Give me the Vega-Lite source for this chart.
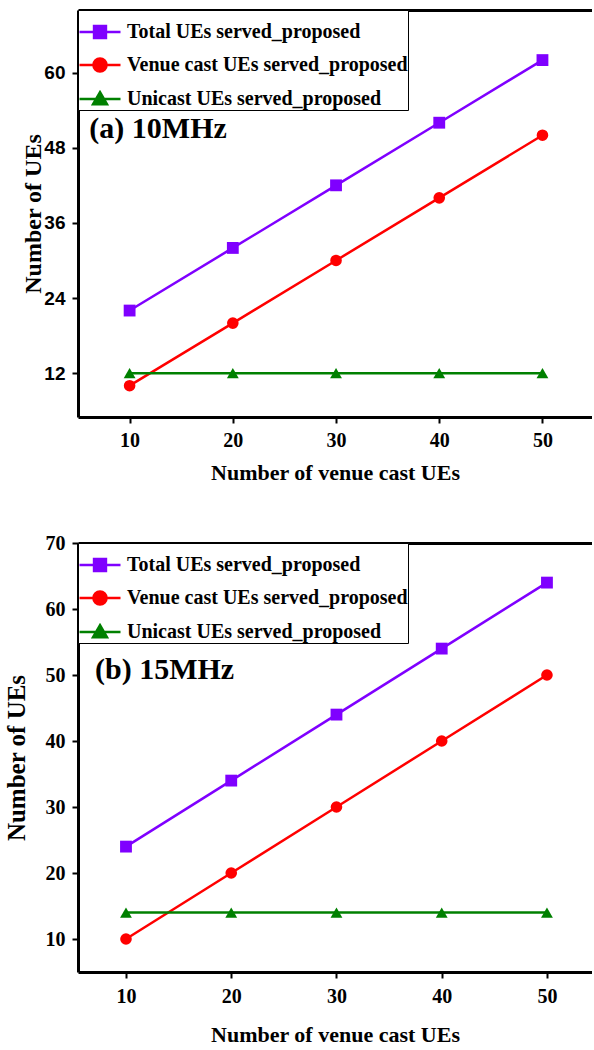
{
  "$schema": "https://vega.github.io/schema/vega-lite/v6.json",
  "background": "white",
  "padding": {"left": 4, "top": 9, "right": 0, "bottom": 2},
  "spacing": 126,
  "bounds": "flush",
  "datasets": {
    "a": [
      {"n": 10, "series": "Total UEs served_proposed", "ues": 22},
      {"n": 20, "series": "Total UEs served_proposed", "ues": 32},
      {"n": 30, "series": "Total UEs served_proposed", "ues": 42},
      {"n": 40, "series": "Total UEs served_proposed", "ues": 52},
      {"n": 50, "series": "Total UEs served_proposed", "ues": 62},
      {"n": 10, "series": "Venue cast UEs served_proposed", "ues": 10},
      {"n": 20, "series": "Venue cast UEs served_proposed", "ues": 20},
      {"n": 30, "series": "Venue cast UEs served_proposed", "ues": 30},
      {"n": 40, "series": "Venue cast UEs served_proposed", "ues": 40},
      {"n": 50, "series": "Venue cast UEs served_proposed", "ues": 50},
      {"n": 10, "series": "Unicast UEs served_proposed", "ues": 12},
      {"n": 20, "series": "Unicast UEs served_proposed", "ues": 12},
      {"n": 30, "series": "Unicast UEs served_proposed", "ues": 12},
      {"n": 40, "series": "Unicast UEs served_proposed", "ues": 12},
      {"n": 50, "series": "Unicast UEs served_proposed", "ues": 12}
    ],
    "b": [
      {"n": 10, "series": "Total UEs served_proposed", "ues": 24},
      {"n": 20, "series": "Total UEs served_proposed", "ues": 34},
      {"n": 30, "series": "Total UEs served_proposed", "ues": 44},
      {"n": 40, "series": "Total UEs served_proposed", "ues": 54},
      {"n": 50, "series": "Total UEs served_proposed", "ues": 64},
      {"n": 10, "series": "Venue cast UEs served_proposed", "ues": 10},
      {"n": 20, "series": "Venue cast UEs served_proposed", "ues": 20},
      {"n": 30, "series": "Venue cast UEs served_proposed", "ues": 30},
      {"n": 40, "series": "Venue cast UEs served_proposed", "ues": 40},
      {"n": 50, "series": "Venue cast UEs served_proposed", "ues": 50},
      {"n": 10, "series": "Unicast UEs served_proposed", "ues": 14},
      {"n": 20, "series": "Unicast UEs served_proposed", "ues": 14},
      {"n": 30, "series": "Unicast UEs served_proposed", "ues": 14},
      {"n": 40, "series": "Unicast UEs served_proposed", "ues": 14},
      {"n": 50, "series": "Unicast UEs served_proposed", "ues": 14}
    ]
  },
  "resolve": {"scale": {"color": "independent", "shape": "independent"}, "legend": {"color": "independent", "shape": "independent"}},
  "config": {
    "view": {"stroke": null},
    "axis": {
      "grid": false,
      "domainColor": "black",
      "domainWidth": 3,
      "tickColor": "black",
      "tickWidth": 2,
      "tickSize": 6,
      "labelColor": "black",
      "titleColor": "black",
      "labelFont": "Liberation Serif",
      "labelFontWeight": "bold",
      "titleFont": "Liberation Serif",
      "titleFontWeight": "bold"
    },
    "legend": {
      "orient": "top-left",
      "offset": 0,
      "padding": 0,
      "rowPadding": -7,
      "strokeColor": "black",
      "strokeWidth": 1,
      "fillColor": "white",
      "symbolSize": 1681,
      "symbolStrokeWidth": 2.5,
      "symbolOpacity": 1,
      "labelFont": "Liberation Serif",
      "labelFontWeight": "bold",
      "labelFontSize": 20,
      "labelColor": "black",
      "labelOffset": 5,
      "labelLimit": 0
    }
  },
  "vconcat": [
    {
      "width": 514,
      "height": 407,
      "data": {"name": "a"},
      "resolve": {"axis": {"x": "independent"}},
      "layer": [
        {
          "mark": {"type": "line", "strokeWidth": 2.5},
          "encoding": {
            "x": {"field": "n", "type": "quantitative",
              "scale": {"domain": [5, 54.8], "nice": false, "zero": false},
              "axis": {"orient": "bottom", "values": [10, 20, 30, 40, 50], "title": "Number of venue cast UEs", "titleFontSize": 22, "labelFontSize": 20, "labelPadding": 7, "titlePadding": 12}},
            "y": {"field": "ues", "type": "quantitative",
              "scale": {"domain": [5, 70], "nice": false, "zero": false},
              "axis": {"orient": "left", "values": [12, 24, 36, 48, 60], "title": "Number of UEs", "labelFont": "Liberation Sans", "labelFontSize": 19, "titleFontSize": 24, "labelPadding": 7, "titlePadding": -2}},
            "color": {"field": "series", "type": "nominal",
              "scale": {"domain": ["Total UEs served_proposed", "Venue cast UEs served_proposed", "Unicast UEs served_proposed"], "range": ["#7F00FF", "#FF0000", "#008000"]},
              "legend": {"title": null}}
          }
        },
        {
          "mark": {"type": "point", "filled": true, "opacity": 0, "size": 10},
          "encoding": {
            "x": {"field": "n", "type": "quantitative",
              "scale": {"domain": [5, 54.8], "nice": false, "zero": false},
              "axis": {"orient": "top", "labels": false, "ticks": false, "title": null}},
            "y": {"field": "ues", "type": "quantitative"},
            "color": {"field": "series", "type": "nominal", "legend": null},
            "shape": {"field": "series", "type": "nominal",
              "scale": {"domain": ["Total UEs served_proposed", "Venue cast UEs served_proposed", "Unicast UEs served_proposed"], "range": ["M-1,0L1,0M-0.29,-0.29L0.29,-0.29L0.29,0.29L-0.29,0.29Z", "M-1,0L1,0M0.32,0L0.2956,0.1225L0.2263,0.2263L0.1225,0.2956L0,0.32L-0.1225,0.2956L-0.2263,0.2263L-0.2956,0.1225L-0.32,0L-0.2956,-0.1225L-0.2263,-0.2263L-0.1225,-0.2956L0,-0.32L0.1225,-0.2956L0.2263,-0.2263L0.2956,-0.1225Z", "M-1,0L1,0M0,-0.33L0.34,0.26L-0.34,0.26Z"]},
              "legend": null}
          }
        },
        {
          "transform": [{"filter": "datum.series === 'Total UEs served_proposed'"}],
          "mark": {"type": "point", "filled": true, "opacity": 1, "size": 140, "shape": "square", "color": "#7F00FF"},
          "encoding": {
            "x": {"field": "n", "type": "quantitative", "axis": null},
            "y": {"field": "ues", "type": "quantitative"}
          }
        },
        {
          "transform": [{"filter": "datum.series === 'Venue cast UEs served_proposed'"}],
          "mark": {"type": "point", "filled": true, "opacity": 1, "size": 135, "shape": "circle", "color": "#FF0000"},
          "encoding": {
            "x": {"field": "n", "type": "quantitative", "axis": null},
            "y": {"field": "ues", "type": "quantitative"}
          }
        },
        {
          "transform": [{"filter": "datum.series === 'Unicast UEs served_proposed'"}],
          "mark": {"type": "point", "filled": true, "opacity": 1, "size": 140, "shape": "triangle-up", "color": "#008000"},
          "encoding": {
            "x": {"field": "n", "type": "quantitative", "axis": null},
            "y": {"field": "ues", "type": "quantitative"}
          }
        },
        {
          "data": {"values": [{}]},
          "mark": {"type": "text", "align": "left", "baseline": "middle", "font": "Liberation Serif", "fontWeight": "bold", "fontSize": 30, "color": "black"},
          "encoding": {
            "x": {"datum": 6.1, "type": "quantitative", "axis": null},
            "y": {"datum": 51.0, "type": "quantitative"},
            "text": {"value": "(a) 10MHz"}
          }
        }
      ]
    },
    {
      "width": 514,
      "height": 429,
      "data": {"name": "b"},
      "resolve": {"axis": {"x": "independent"}},
      "layer": [
        {
          "mark": {"type": "line", "strokeWidth": 2.5},
          "encoding": {
            "x": {"field": "n", "type": "quantitative",
              "scale": {"domain": [5.44, 54.28], "nice": false, "zero": false},
              "axis": {"orient": "bottom", "values": [10, 20, 30, 40, 50], "title": "Number of venue cast UEs", "titleFontSize": 22, "labelFontSize": 20, "labelPadding": 8, "titlePadding": 18}},
            "y": {"field": "ues", "type": "quantitative",
              "scale": {"domain": [5, 70], "nice": false, "zero": false},
              "axis": {"orient": "left", "values": [10, 20, 30, 40, 50, 60, 70], "title": "Number of UEs", "labelFontSize": 20, "titleFontSize": 25, "labelPadding": 7, "titlePadding": 16}},
            "color": {"field": "series", "type": "nominal",
              "scale": {"domain": ["Total UEs served_proposed", "Venue cast UEs served_proposed", "Unicast UEs served_proposed"], "range": ["#7F00FF", "#FF0000", "#008000"]},
              "legend": {"title": null}}
          }
        },
        {
          "mark": {"type": "point", "filled": true, "opacity": 0, "size": 10},
          "encoding": {
            "x": {"field": "n", "type": "quantitative",
              "scale": {"domain": [5.44, 54.28], "nice": false, "zero": false},
              "axis": {"orient": "top", "labels": false, "ticks": false, "title": null}},
            "y": {"field": "ues", "type": "quantitative"},
            "color": {"field": "series", "type": "nominal", "legend": null},
            "shape": {"field": "series", "type": "nominal",
              "scale": {"domain": ["Total UEs served_proposed", "Venue cast UEs served_proposed", "Unicast UEs served_proposed"], "range": ["M-1,0L1,0M-0.29,-0.29L0.29,-0.29L0.29,0.29L-0.29,0.29Z", "M-1,0L1,0M0.32,0L0.2956,0.1225L0.2263,0.2263L0.1225,0.2956L0,0.32L-0.1225,0.2956L-0.2263,0.2263L-0.2956,0.1225L-0.32,0L-0.2956,-0.1225L-0.2263,-0.2263L-0.1225,-0.2956L0,-0.32L0.1225,-0.2956L0.2263,-0.2263L0.2956,-0.1225Z", "M-1,0L1,0M0,-0.33L0.34,0.26L-0.34,0.26Z"]},
              "legend": null}
          }
        },
        {
          "transform": [{"filter": "datum.series === 'Total UEs served_proposed'"}],
          "mark": {"type": "point", "filled": true, "opacity": 1, "size": 140, "shape": "square", "color": "#7F00FF"},
          "encoding": {
            "x": {"field": "n", "type": "quantitative", "axis": null},
            "y": {"field": "ues", "type": "quantitative"}
          }
        },
        {
          "transform": [{"filter": "datum.series === 'Venue cast UEs served_proposed'"}],
          "mark": {"type": "point", "filled": true, "opacity": 1, "size": 135, "shape": "circle", "color": "#FF0000"},
          "encoding": {
            "x": {"field": "n", "type": "quantitative", "axis": null},
            "y": {"field": "ues", "type": "quantitative"}
          }
        },
        {
          "transform": [{"filter": "datum.series === 'Unicast UEs served_proposed'"}],
          "mark": {"type": "point", "filled": true, "opacity": 1, "size": 140, "shape": "triangle-up", "color": "#008000"},
          "encoding": {
            "x": {"field": "n", "type": "quantitative", "axis": null},
            "y": {"field": "ues", "type": "quantitative"}
          }
        },
        {
          "data": {"values": [{}]},
          "mark": {"type": "text", "align": "left", "baseline": "middle", "font": "Liberation Serif", "fontWeight": "bold", "fontSize": 30, "color": "black"},
          "encoding": {
            "x": {"datum": 7.06, "type": "quantitative", "axis": null},
            "y": {"datum": 50.76, "type": "quantitative"},
            "text": {"value": "(b) 15MHz"}
          }
        }
      ]
    }
  ]
}
